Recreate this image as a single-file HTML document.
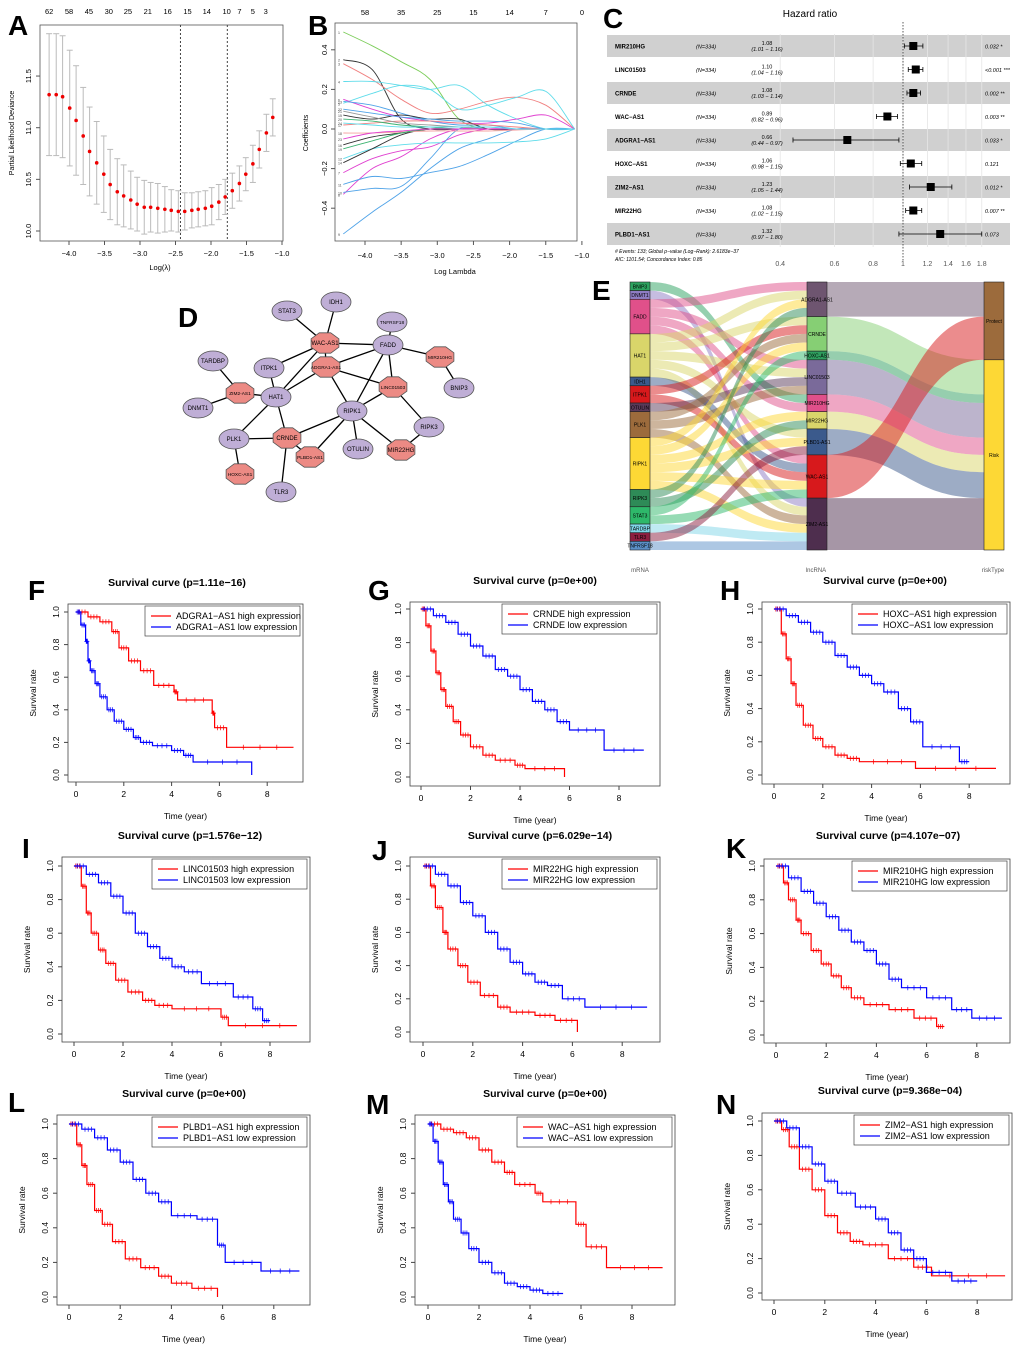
<!DOCTYPE html>
<html><head><meta charset="utf-8">
<style>
body{margin:0;background:#fff}
svg{display:block;font-family:"Liberation Sans",Arial,sans-serif}
</style></head>
<body>
<svg id="fig" width="1020" height="1356" viewBox="0 0 1020 1356" xmlns="http://www.w3.org/2000/svg"></svg>
<script>
// ---------- Panel A data ----------
const aLambda=[-4.28,-4.18,-4.09,-3.99,-3.90,-3.80,-3.71,-3.61,-3.51,-3.42,-3.32,-3.23,-3.13,-3.04,-2.94,-2.85,-2.75,-2.65,-2.56,-2.46,-2.37,-2.27,-2.18,-2.08,-1.99,-1.89,-1.80,-1.70,-1.60,-1.51,-1.41,-1.32,-1.22,-1.13];
const aDev=[11.32,11.32,11.30,11.19,11.07,10.92,10.77,10.66,10.55,10.45,10.38,10.34,10.30,10.26,10.23,10.23,10.22,10.21,10.20,10.19,10.19,10.20,10.21,10.22,10.24,10.28,10.33,10.39,10.46,10.55,10.65,10.79,10.95,11.10];
const aErr=[0.59,0.59,0.59,0.56,0.53,0.47,0.43,0.40,0.37,0.34,0.32,0.30,0.28,0.26,0.26,0.24,0.24,0.22,0.20,0.20,0.18,0.17,0.17,0.17,0.18,0.17,0.17,0.17,0.17,0.16,0.18,0.18,0.18,0.18];
const aTopLabels=["62","58","45","30","25","21","16","15","14","10","7","5","3"];
const aTopLambda=[-4.28,-4.0,-3.72,-3.44,-3.17,-2.89,-2.61,-2.33,-2.06,-1.78,-1.6,-1.41,-1.23];
// ---------- Panel B data ----------
const bLambda=[-4.3,-3.9,-3.5,-3.1,-2.7,-2.3,-1.9,-1.5,-1.1];
const bColors=["#7ccd5a","#333333","#f08080","#5fdcea","#5fdcea","#e040d0","#e040d0","#e040d0","#4fa3e8","#4fa3e8","#4fa3e8","#5fdcea","#4fa3e8","#333333","#333333","#333333","#f08080","#f6a0a0","#3cb371","#3cb371","#999999","#4fa3e8","#e040d0","#5fdcea"];
const bPaths=[
[0.49,0.42,0.34,0.25,0.05,0,0,0,0],
[0.35,0.30,0.05,0,0,0,0,0,0],
[0.33,0.25,0.15,0.08,0.10,0.14,0.16,0.12,0],
[0.24,0.24,0.22,0.20,0.22,0.12,0.05,0.0,0],
[0.13,0.18,0.22,0.20,0.10,0.12,0.16,0.19,0],
[0.15,0.10,0.06,0.04,0.03,0.03,0.05,0.07,0],
[-0.22,-0.15,-0.11,-0.09,-0.03,0,0,0,0],
[-0.33,-0.20,-0.14,-0.05,0,0,0,0,0],
[-0.53,-0.42,-0.32,-0.20,-0.10,-0.05,0,0,0],
[-0.32,-0.30,-0.29,-0.15,0,0,0,0,0],
[-0.28,-0.24,-0.25,-0.22,-0.19,-0.13,-0.06,0,0],
[-0.15,-0.10,-0.08,-0.07,-0.07,-0.07,-0.065,-0.05,0],
[0.14,0.12,0.08,0.04,0.02,0.02,0,0,0],
[-0.17,-0.10,-0.03,0,0,0,0,0,0],
[0.07,0.05,0.07,0.05,0.05,0,0,0,0],
[-0.08,-0.04,-0.02,0,0,0,0,0,0],
[0.02,0.03,0.04,0.04,0.03,0.02,0.01,0,0],
[-0.02,-0.02,-0.015,-0.01,-0.01,-0.01,-0.005,0,0],
[-0.10,-0.06,-0.02,0,0,0,0,0,0],
[0.05,0.04,0.02,0.01,0,0,0,0,0],
[0.09,0.06,0.03,0.02,0.01,0,0,0,0],
[0.10,0.08,0.06,0.05,0.04,0.04,0.03,0,0],
[-0.05,-0.02,-0.01,0,0,0,0,0,0],
[0.03,0.02,0.01,0.01,0.01,0.01,0,0,0]];
const bTopLabels=["58","35","25","15","14","7","0"];
const bTopLambda=[-4.0,-3.5,-3.0,-2.5,-2.0,-1.5,-1.0];
// ---------- Panel C data ----------
const cNames=["MIR210HG","LINC01503","CRNDE","WAC−AS1","ADGRA1−AS1","HOXC−AS1","ZIM2−AS1","MIR22HG","PLBD1−AS1"];
const cHR=[1.08,1.10,1.08,0.89,0.66,1.06,1.23,1.08,1.32];
const cLo=[1.01,1.04,1.03,0.82,0.44,0.98,1.05,1.02,0.97];
const cHi=[1.16,1.16,1.14,0.96,0.97,1.15,1.44,1.15,1.80];
const cP=["0.032 *","<0.001 ***","0.002 **","0.003 **","0.033 *","0.121","0.012 *","0.007 **","0.073"];
const cTicks=[0.4,0.6,0.8,1,1.2,1.4,1.6,1.8];
// ---------- Panel E data ----------
const eMrna=["BNIP3","DNMT1","FADD","HAT1","IDH1","ITPK1","OTULIN","PLK1","RIPK1","RIPK3","STAT3","TARDBP","TLR3","TNFRSF18"];
const eMrnaCol=["#2ca25f","#8e7cc3","#e0508a","#d9d56a","#3b5a8c","#d7191c","#5a3a5a","#9c6b3c","#fdd835","#2e8b57","#2eb86a","#7fd6e8","#8b2040","#5b8fc7"];
const eLnc=["ADGRA1-AS1","CRNDE","HOXC-AS1","LINC01503","MIR210HG","MIR22HG","PLBD1-AS1","WAC-AS1","ZIM2-AS1"];
const eLncCol=["#6e5570","#86cf74","#2e9e5e","#7a6a9a","#e0508a","#d9d56a","#3b5a8c","#d7191c","#4e2e4e"];
const eLncRisk=[0,1,1,1,1,1,1,0,1];
const eRisk=["Protect","Risk"];
const eRiskCol=["#9c6b3c","#fdd835"];
const eFlowM=[0,1,2,2,2,2,3,3,3,3,3,4,5,5,6,7,7,7,8,8,8,8,8,8,9,9,10,10,11,12,13];
const eFlowL=[4,8,0,3,4,7,0,1,3,6,8,7,1,7,3,1,3,8,0,1,5,6,7,8,0,5,2,7,8,6,8];
// ---------- Panel D network ----------
const dNodes=[["STAT3",287,311,0],["IDH1",336,302,0],["TNFRSF18",392,322,0],["FADD",388,345,0],["TARDBP",213,361,0],["ITPK1",269,368,0],["HAT1",276,397,0],["BNIP3",459,388,0],["DNMT1",198,408,0],["PLK1",234,439,0],["RIPK1",352,411,0],["RIPK3",429,427,0],["OTULIN",358,449,0],["TLR3",281,492,0],
["WAC-AS1",325,343,1],["ADGRA1-AS1",326,367,1],["MIR210HG",440,357,1],["LINC01503",393,387,1],["ZIM2-AS1",240,393,1],["CRNDE",287,438,1],["PLBD1-AS1",310,457,1],["MIR22HG",401,450,1],["HOXC-AS1",240,474,1]];
const dEdges=[["STAT3","WAC-AS1"],["IDH1","WAC-AS1"],["TNFRSF18","FADD"],["FADD","WAC-AS1"],["FADD","MIR210HG"],["FADD","LINC01503"],["FADD","RIPK1"],["WAC-AS1","ADGRA1-AS1"],["WAC-AS1","HAT1"],["WAC-AS1","ITPK1"],["ADGRA1-AS1","HAT1"],["ADGRA1-AS1","RIPK1"],["ADGRA1-AS1","LINC01503"],["TARDBP","ZIM2-AS1"],["ZIM2-AS1","HAT1"],["DNMT1","ZIM2-AS1"],["HAT1","PLK1"],["HAT1","CRNDE"],["ITPK1","HAT1"],["PLK1","CRNDE"],["PLK1","HOXC-AS1"],["CRNDE","RIPK1"],["CRNDE","PLBD1-AS1"],["CRNDE","TLR3"],["RIPK1","LINC01503"],["RIPK1","PLBD1-AS1"],["RIPK1","OTULIN"],["RIPK1","MIR22HG"],["RIPK3","MIR22HG"],["LINC01503","RIPK3"],["MIR210HG","BNIP3"],["ADGRA1-AS1","FADD"]];
// ---------- Survival data ----------
const fHighT=[0,0.5,1,1.5,1.8,2.2,2.7,3.25,4.1,4.25,5.7,5.8,6.3],fHighS=[1,0.97,0.94,0.88,0.78,0.70,0.64,0.55,0.51,0.46,0.38,0.29,0.17],fHighEnd=9.1;
const fLowT=[0,0.2,0.4,0.5,0.6,0.8,1,1.3,1.6,2,2.4,2.7,3.2,4,4.5,4.9,7.35],fLowS=[1,0.92,0.82,0.70,0.64,0.56,0.48,0.40,0.33,0.28,0.23,0.20,0.18,0.15,0.12,0.08,0],fLowEnd=7.35;
const gHighT=[0,0.2,0.4,0.6,0.8,1,1.3,1.6,2,2.5,3,3.8,4.2,5.8],gHighS=[1,0.9,0.75,0.62,0.52,0.42,0.33,0.25,0.18,0.13,0.10,0.07,0.05,0],gHighEnd=5.8;
const gLowT=[0,0.5,1,1.5,2,2.5,3,3.5,4,4.5,5,5.5,6,7.4],gLowS=[1,0.96,0.92,0.85,0.78,0.72,0.64,0.60,0.52,0.45,0.40,0.33,0.28,0.16],gLowEnd=9;
const hHighT=[0,0.3,0.5,0.7,0.9,1.2,1.6,2,2.5,3,3.5,5.8],hHighS=[1,0.85,0.70,0.55,0.42,0.30,0.22,0.17,0.12,0.10,0.08,0.04],hHighEnd=9.1;
const hLowT=[0,0.5,1,1.5,2,2.5,3,3.5,4,4.5,5.1,5.6,6.1,7.6],hLowS=[1,0.96,0.92,0.86,0.80,0.72,0.65,0.60,0.55,0.50,0.40,0.32,0.17,0.08],hLowEnd=8;
const iHighT=[0,0.3,0.5,0.7,1,1.3,1.7,2.2,2.8,3.3,4,6,6.3],iHighS=[1,0.88,0.72,0.60,0.50,0.42,0.32,0.25,0.20,0.17,0.15,0.10,0.05],iHighEnd=9.1;
const iLowT=[0,0.5,1,1.5,2,2.5,3,3.5,4,4.5,5.2,6.5,7.3,7.7],iLowS=[1,0.95,0.90,0.82,0.72,0.60,0.52,0.45,0.40,0.37,0.30,0.22,0.15,0.08],iLowEnd=8;
const jHighT=[0,0.3,0.5,0.8,1,1.4,1.8,2.3,3,3.5,4.5,5.3,6.2],jHighS=[1,0.88,0.75,0.60,0.50,0.40,0.30,0.22,0.15,0.12,0.10,0.07,0],jHighEnd=6.2;
const jLowT=[0,0.5,1,1.5,2,2.5,3,3.5,4,4.5,5,5.6,6.5],jLowS=[1,0.95,0.88,0.78,0.70,0.60,0.50,0.42,0.35,0.30,0.28,0.20,0.15],jLowEnd=9;
const kHighT=[0,0.3,0.5,0.8,1,1.4,1.8,2.2,2.6,3,3.5,4.5,5.5,6.4],kHighS=[1,0.90,0.80,0.68,0.60,0.50,0.42,0.35,0.28,0.22,0.18,0.15,0.10,0.05],kHighEnd=6.7;
const kLowT=[0,0.5,1,1.5,2,2.5,3,3.5,4,4.5,5,6,7,7.8],kLowS=[1,0.93,0.85,0.78,0.70,0.62,0.55,0.50,0.42,0.33,0.28,0.22,0.15,0.10],kLowEnd=9;
const lHighT=[0,0.3,0.5,0.7,1,1.3,1.7,2.2,2.8,3.5,4,4.8,5.8],lHighS=[1,0.88,0.76,0.65,0.50,0.42,0.32,0.22,0.17,0.12,0.08,0.05,0],lHighEnd=5.8;
const lLowT=[0,0.5,1,1.5,2,2.5,3,3.5,4,5,5.8,6.1,7.5],lLowS=[1,0.97,0.92,0.85,0.78,0.68,0.60,0.55,0.47,0.45,0.30,0.20,0.15],lLowEnd=9;
const mHighT=[0,0.5,1,1.5,2,2.5,3,3.4,4.2,4.5,5.8,6.2,7],mHighS=[1,0.97,0.95,0.92,0.85,0.78,0.72,0.65,0.60,0.55,0.42,0.29,0.17],mHighEnd=9.2;
const mLowT=[0,0.2,0.4,0.6,0.8,1,1.3,1.6,2,2.5,3,3.5,4,4.5],mLowS=[1,0.90,0.78,0.65,0.55,0.45,0.37,0.28,0.20,0.14,0.08,0.06,0.04,0.02],mLowEnd=5.3;
const nHighT=[0,0.3,0.6,1,1.5,2,2.5,3,3.5,4.5,5.5,6.2],nHighS=[1,0.95,0.85,0.72,0.60,0.45,0.35,0.30,0.28,0.20,0.15,0.10],nHighEnd=9.1;
const nLowT=[0,0.5,1,1.5,2,2.5,3.2,4,4.5,5,5.5,6,7],nLowS=[1,0.96,0.85,0.75,0.65,0.58,0.50,0.43,0.35,0.25,0.20,0.12,0.07],nLowEnd=8;

const NS="http://www.w3.org/2000/svg";
const svg=document.getElementById('fig');
function el(tag,attrs,parent,text){const e=document.createElementNS(NS,tag);for(const k in attrs)e.setAttribute(k,attrs[k]);if(text!==undefined)e.textContent=text;(parent||svg).appendChild(e);return e;}
function grp(name){const g=el('g',{});return g;}
function letter(t,x,y,g){const e=el('text',{x:x,y:y,'font-size':28,'font-weight':'bold'},g,t);}

// ===== Panel A =====
(function(){
const g=grp('panel-a-cv-deviance');
letter('A',8,35,g);
const X=v=>69+71*(v+4), Y=v=>231-103.3*(v-10);
el('rect',{x:40,y:25,width:243,height:216,fill:'none',stroke:'#555','stroke-width':0.8},g);
[-4,-3.5,-3,-2.5,-2,-1.5,-1].forEach(t=>{el('line',{x1:X(t),x2:X(t),y1:241,y2:245,stroke:'#555'},g);el('text',{x:X(t),y:256,'font-size':7.5,'text-anchor':'middle'},g,t.toFixed(1).replace('-','−'));});
[10,10.5,11,11.5].forEach(t=>{el('line',{x1:36,x2:40,y1:Y(t),y2:Y(t),stroke:'#555'},g);el('text',{x:31,y:Y(t),'font-size':7.5,'text-anchor':'middle',transform:`rotate(-90 31 ${Y(t)})`},g,t.toFixed(1));});
aTopLabels.forEach((l,i)=>el('text',{x:X(aTopLambda[i]),y:14,'font-size':7.5,'text-anchor':'middle'},g,l));
el('text',{x:160,y:270,'font-size':7.5,'text-anchor':'middle'},g,'Log(λ)');
el('text',{x:14,y:133,'font-size':7,'text-anchor':'middle',transform:'rotate(-90 14 133)'},g,'Partial Likelihood Deviance');
[-2.43,-1.77].forEach(v=>el('line',{x1:X(v),x2:X(v),y1:25,y2:241,stroke:'#444','stroke-dasharray':'2,2'},g));
aLambda.forEach((l,i)=>{const x=X(l);
 el('line',{x1:x,x2:x,y1:Y(aDev[i]-aErr[i]),y2:Y(aDev[i]+aErr[i]),stroke:'#bbb'},g);
 el('line',{x1:x-3,x2:x+3,y1:Y(aDev[i]-aErr[i]),y2:Y(aDev[i]-aErr[i]),stroke:'#bbb'},g);
 el('line',{x1:x-3,x2:x+3,y1:Y(aDev[i]+aErr[i]),y2:Y(aDev[i]+aErr[i]),stroke:'#bbb'},g);
 const p=el('circle',{cx:x,cy:Y(aDev[i]),r:1.8,fill:'#e00'},g);
 });
})();

// ===== Panel B =====
(function(){
const g=grp('panel-b-coefficient-paths');
letter('B',308,35,g);
const X=v=>365+72.3*(v+4), Y=v=>129-198*v;
el('rect',{x:335,y:23,width:242,height:218,fill:'none',stroke:'#555','stroke-width':0.8},g);
[-4,-3.5,-3,-2.5,-2,-1.5,-1].forEach(t=>{el('line',{x1:X(t),x2:X(t),y1:241,y2:245,stroke:'#555'},g);el('text',{x:X(t),y:258,'font-size':7.5,'text-anchor':'middle'},g,t.toFixed(1).replace('-','−'));});
[-0.4,-0.2,0,0.2,0.4].forEach(t=>{el('line',{x1:331,x2:335,y1:Y(t),y2:Y(t),stroke:'#555'},g);el('text',{x:327,y:Y(t),'font-size':7.5,'text-anchor':'middle',transform:`rotate(-90 327 ${Y(t)})`},g,t.toFixed(1).replace('-','−'));});
bTopLabels.forEach((l,i)=>el('text',{x:X(bTopLambda[i]),y:15,'font-size':7.5,'text-anchor':'middle'},g,l));
el('text',{x:455,y:274,'font-size':7.5,'text-anchor':'middle'},g,'Log Lambda');
el('text',{x:308,y:133,'font-size':7,'text-anchor':'middle',transform:'rotate(-90 308 133)'},g,'Coefficients');
function smooth(pts){let d='M'+pts[0][0].toFixed(1)+','+pts[0][1].toFixed(1);
 for(let i=0;i<pts.length-1;i++){const p0=pts[Math.max(0,i-1)],p1=pts[i],p2=pts[i+1],p3=pts[Math.min(pts.length-1,i+2)];
  const c1=[p1[0]+(p2[0]-p0[0])/6,p1[1]+(p2[1]-p0[1])/6],c2=[p2[0]-(p3[0]-p1[0])/6,p2[1]-(p3[1]-p1[1])/6];
  d+=` C${c1[0].toFixed(1)},${c1[1].toFixed(1)} ${c2[0].toFixed(1)},${c2[1].toFixed(1)} ${p2[0].toFixed(1)},${p2[1].toFixed(1)}`;}
 return d;}
bPaths.forEach((p,i)=>{const pts=p.map((v,j)=>[X(bLambda[j]),Y(v)]);
 const e=el('path',{d:smooth(pts),fill:'none',stroke:bColors[i],'stroke-width':0.9,'stroke-linejoin':'round'},g);
 
 el('text',{x:338,y:Y(p[0])+2,'font-size':3.5,fill:'#444'},g,String(i+1));});
})();

// ===== Panel C =====
(function(){
const g=grp('panel-c-forest-plot');
letter('C',603,28,g);
el('text',{x:810,y:17,'font-size':10,'text-anchor':'middle'},g,'Hazard ratio');
const X=v=>903+134*Math.log(v);
const rowY=i=>46+23.5*i;
cNames.forEach((n,i)=>{if(i%2===0)el('rect',{x:607,y:rowY(i)-11,width:403,height:22,fill:'#d0d0d0'},g);});
cTicks.forEach(t=>el('line',{x1:X(t),x2:X(t),y1:34,y2:247,stroke:'#e6e6e6','stroke-width':0.8},g));
cNames.forEach((n,i)=>{const y=rowY(i);
 el('text',{x:615,y:y+2.5,'font-size':6,'font-weight':'bold'},g,n);
 el('text',{x:696,y:y+2.5,'font-size':5.5,'font-style':'italic'},g,'(N=334)');
 el('text',{x:767,y:y-1,'font-size':5.5,'text-anchor':'middle'},g,cHR[i].toFixed(2));
 el('text',{x:767,y:y+5,'font-size':5.5,'font-style':'italic','text-anchor':'middle'},g,'('+cLo[i].toFixed(2)+' − '+cHi[i].toFixed(2)+')');
 el('text',{x:985,y:y+2.5,'font-size':5.5,'font-style':'italic'},g,cP[i]);
 el('line',{x1:X(cLo[i]),x2:X(cHi[i]),y1:y,y2:y,stroke:'#000','stroke-width':0.8},g);
 [cLo[i],cHi[i]].forEach(v=>el('line',{x1:X(v),x2:X(v),y1:y-2.5,y2:y+2.5,stroke:'#000','stroke-width':0.8},g));
 const r=el('rect',{x:X(cHR[i])-4,y:y-4,width:8,height:8,fill:'#000'},g);
 });
el('line',{x1:903,x2:903,y1:22,y2:262,stroke:'#333','stroke-dasharray':'1.5,1.5','stroke-width':0.8},g);
cTicks.forEach(t=>el('text',{x:X(t),y:266,'font-size':7,fill:'#555','text-anchor':'middle'},g,String(t)));
el('text',{x:615,y:253,'font-size':5,'font-style':'italic'},g,'# Events: 133; Global p−value (Log−Rank): 2.6183e−37');
el('text',{x:615,y:261,'font-size':5,'font-style':'italic'},g,'AIC: 1101.54; Concordance Index: 0.85');
})();

// ===== Panel D =====
(function(){
const g=grp('panel-d-network');
letter('D',178,327,g);
const pos={};dNodes.forEach(n=>pos[n[0]]=n);
dEdges.forEach(e=>{const a=pos[e[0]],b=pos[e[1]];const l=el('line',{x1:a[1],y1:a[2],x2:b[1],y2:b[2],stroke:'#000','stroke-width':1.3},g);});
dNodes.forEach(n=>{let s;
 if(n[3]===0){s=el('ellipse',{cx:n[1],cy:n[2],rx:15,ry:10,fill:'#bfaed6',stroke:'#555','stroke-width':0.8},g);}
 else{const pts=[];for(let k=0;k<8;k++){const a=Math.PI/8+k*Math.PI/4;pts.push((n[1]+15*Math.cos(a)).toFixed(1)+','+(n[2]+11*Math.sin(a)).toFixed(1));}
  s=el('polygon',{points:pts.join(' '),fill:'#ec8a84',stroke:'#555','stroke-width':0.8},g);}
 
 el('text',{x:n[1],y:n[2]+2,'font-size':n[0].length>7?4.8:6,'text-anchor':'middle'},g,n[0]);});
})();

// ===== Panel E =====
(function(){
const g=grp('panel-e-sankey');
letter('E',592,300,g);
const top=282,H=268,tot=eFlowM.length,u=H/tot;
const xL=630,xM=807,xR=984,w=20;
function blocks(count,keyArr){const start=[],size=[];let y=top;for(let i=0;i<count;i++){const c=keyArr.filter(k=>k===i).length;start.push(y);size.push(c*u);y+=c*u;}return {start,size};}
const bm=blocks(eMrna.length,eFlowM), bl=blocks(eLnc.length,eFlowL);
const br=blocks(2,eLnc.map((_,i)=>eLncRisk[i]).flatMap((r,i)=>Array(eFlowL.filter(k=>k===i).length).fill(r)));
function band(x1,y1,x2,y2,h,col,name){const mx=(x1+x2)/2;
 const d=`M${x1},${y1} C${mx},${y1} ${mx},${y2} ${x2},${y2} L${x2},${y2+h} C${mx},${y2+h} ${mx},${y1+h} ${x1},${y1+h} Z`;
 const p=el('path',{d:d,fill:col,'fill-opacity':0.5},g);}
const mOff=bm.start.slice(), lOffIn=bl.start.slice();
eFlowM.forEach((m,i)=>{const l=eFlowL[i];band(xL+w,mOff[m],xM,lOffIn[l],u,eMrnaCol[m],'flow-mrna-lncrna');mOff[m]+=u;lOffIn[l]+=u;});
const rOff=br.start.slice();
eLnc.forEach((n,i)=>{const r=eLncRisk[i];band(xM+w,bl.start[i],xR,rOff[r],bl.size[i],eLncCol[i],'flow-lncrna-risk');rOff[r]+=bl.size[i];});
function col(b,x,names,cols,key){names.forEach((n,i)=>{if(!b.size[i])return;const r=el('rect',{x:x,y:b.start[i],width:w,height:b.size[i],fill:cols[i],stroke:'#222','stroke-width':0.6},g);
 el('text',{x:x+w/2,y:b.start[i]+b.size[i]/2+2,'font-size':5,'text-anchor':'middle'},g,n);});}
col(bm,xL,eMrna,eMrnaCol,'mrna');col(bl,xM,eLnc,eLncCol,'lncrna');col(br,xR,eRisk,eRiskCol,'risk');
el('text',{x:640,y:572,'font-size':6,fill:'#555','text-anchor':'middle'},g,'mRNA');
el('text',{x:816,y:572,'font-size':6,fill:'#555','text-anchor':'middle'},g,'lncRNA');
el('text',{x:993,y:572,'font-size':6,fill:'#555','text-anchor':'middle'},g,'riskType');
})();

// ===== Survival panels =====
function surv(c){
 const g=grp('panel-'+c.L.toLowerCase()+'-survival');
 letter(c.L,c.lx,c.ly,g);
 const X=t=>c.x0+c.xs*t, Y=s=>c.y0-(c.y0-c.y1)*s;
 el('text',{x:c.tx,y:c.ty,'font-size':10.5,'font-weight':'bold','text-anchor':'middle'},g,'Survival curve ('+c.p+')');
 el('rect',{x:c.b[0],y:c.b[1],width:c.b[2]-c.b[0],height:c.b[3]-c.b[1],fill:'none',stroke:'#444','stroke-width':0.8},g);
 [0,2,4,6,8].forEach(t=>{el('line',{x1:X(t),x2:X(t),y1:c.b[3],y2:c.b[3]+4,stroke:'#444'},g);el('text',{x:X(t),y:c.b[3]+15,'font-size':8.5,'text-anchor':'middle'},g,String(t));});
 [0,0.2,0.4,0.6,0.8,1].forEach(s=>{const y=Y(s),x=c.b[0]-9;el('line',{x1:c.b[0]-4,x2:c.b[0],y1:y,y2:y,stroke:'#444'},g);el('text',{x:x,y:y,'font-size':8.5,'text-anchor':'middle',transform:`rotate(-90 ${x} ${y})`},g,s.toFixed(1));});
 el('text',{x:(c.b[0]+c.b[2])/2,y:c.b[3]+37,'font-size':8.5,'text-anchor':'middle'},g,'Time (year)');
 const yl=c.b[0]-32,ym=(c.b[1]+c.b[3])/2;
 el('text',{x:yl,y:ym,'font-size':8.5,'text-anchor':'middle',transform:`rotate(-90 ${yl} ${ym})`},g,'Survival rate');
 function curve(T,S,end,colr,name){let d='M'+X(T[0])+','+Y(S[0]);
  for(let i=1;i<T.length;i++)d+=' H'+X(T[i]).toFixed(1)+' V'+Y(S[i]).toFixed(1);
  d+=' H'+X(end).toFixed(1);
  const p=el('path',{d:d,fill:'none',stroke:colr,'stroke-width':1.2},g);
  let cd='';for(let i=0;i<T.length;i++){const te=i+1<T.length?T[i+1]:end;const n=3;for(let k=1;k<=n;k++){const t=T[i]+(te-T[i])*k/(n+1);if(te-T[i]<0.05)continue;const x=X(t),y=Y(S[i]);cd+=`M${(x-2).toFixed(1)},${y.toFixed(1)}h4M${x.toFixed(1)},${(y-2.5).toFixed(1)}v5`;}}
  el('path',{d:cd,stroke:colr,'stroke-width':0.7,fill:'none'},g);}
 curve(c.hT,c.hS,c.hE,'#ff0000','high-expression-curve');
 curve(c.lT,c.lS,c.lE,'#0000ff','low-expression-curve');
 const lg=el('g',{},g);
 const lx=c.b[2]-158,ly=c.b[1]+2;
 el('rect',{x:lx,y:ly,width:155,height:30,fill:'#fff',stroke:'#444','stroke-width':0.7},lg);
 el('line',{x1:lx+6,x2:lx+26,y1:ly+10,y2:ly+10,stroke:'#f00','stroke-width':1.2},lg);
 el('line',{x1:lx+6,x2:lx+26,y1:ly+21,y2:ly+21,stroke:'#00f','stroke-width':1.2},lg);
 el('text',{x:lx+31,y:ly+13,'font-size':9},lg,c.g+' high expression');
 el('text',{x:lx+31,y:ly+24,'font-size':9},lg,c.g+' low expression');
}
surv({L:'F',lx:28,ly:600,g:'ADGRA1−AS1',p:'p=1.11e−16',tx:177,ty:586,x0:76,xs:23.9,y1:612,y0:775,b:[68,604,303,782],hT:fHighT,hS:fHighS,hE:fHighEnd,lT:fLowT,lS:fLowS,lE:fLowEnd});
surv({L:'G',lx:368,ly:600,g:'CRNDE',p:'p=0e+00',tx:535,ty:584,x0:421,xs:24.75,y1:609,y0:777,b:[410,602,660,786],hT:gHighT,hS:gHighS,hE:gHighEnd,lT:gLowT,lS:gLowS,lE:gLowEnd});
surv({L:'H',lx:720,ly:600,g:'HOXC−AS1',p:'p=0e+00',tx:885,ty:584,x0:774,xs:24.4,y1:609,y0:775,b:[762,602,1010,784],hT:hHighT,hS:hHighS,hE:hHighEnd,lT:hLowT,lS:hLowS,lE:hLowEnd});
surv({L:'I',lx:22,ly:858,g:'LINC01503',p:'p=1.576e−12',tx:190,ty:839,x0:74,xs:24.5,y1:866,y0:1034,b:[62,857,310,1042],hT:iHighT,hS:iHighS,hE:iHighEnd,lT:iLowT,lS:iLowS,lE:iLowEnd});
surv({L:'J',lx:372,ly:860,g:'MIR22HG',p:'p=6.029e−14',tx:540,ty:839,x0:423,xs:24.9,y1:866,y0:1032,b:[410,857,660,1042],hT:jHighT,hS:jHighS,hE:jHighEnd,lT:jLowT,lS:jLowS,lE:jLowEnd});
surv({L:'K',lx:726,ly:858,g:'MIR210HG',p:'p=4.107e−07',tx:888,ty:839,x0:776,xs:25.1,y1:866,y0:1035,b:[764,859,1010,1043],hT:kHighT,hS:kHighS,hE:kHighEnd,lT:kLowT,lS:kLowS,lE:kLowEnd});
surv({L:'L',lx:8,ly:1112,g:'PLBD1−AS1',p:'p=0e+00',tx:184,ty:1097,x0:69,xs:25.6,y1:1124,y0:1297,b:[57,1115,310,1305],hT:lHighT,hS:lHighS,hE:lHighEnd,lT:lLowT,lS:lLowS,lE:lLowEnd});
surv({L:'M',lx:366,ly:1114,g:'WAC−AS1',p:'p=0e+00',tx:545,ty:1097,x0:428,xs:25.5,y1:1124,y0:1297,b:[415,1115,675,1305],hT:mHighT,hS:mHighS,hE:mHighEnd,lT:mLowT,lS:mLowS,lE:mLowEnd});
surv({L:'N',lx:716,ly:1114,g:'ZIM2−AS1',p:'p=9.368e−04',tx:890,ty:1094,x0:774,xs:25.4,y1:1121,y0:1293,b:[762,1113,1012,1300],hT:nHighT,hS:nHighS,hE:nHighEnd,lT:nLowT,lS:nLowS,lE:nLowEnd});
</script>
</body></html>
